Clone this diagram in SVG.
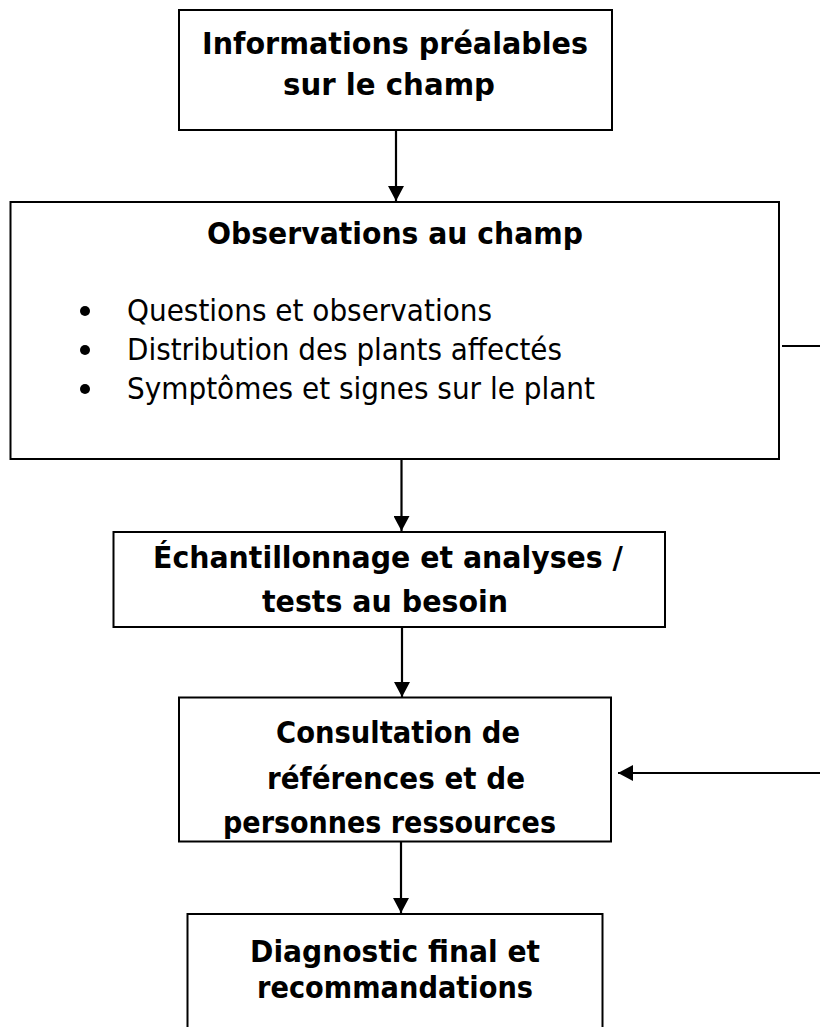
<svg xmlns="http://www.w3.org/2000/svg" width="820" height="1027" viewBox="0 0 820 1027">
<style>
.box{fill:#fff;stroke:#000;stroke-width:2}
.t{font-family:"DejaVu Sans","Verdana",sans-serif;font-weight:bold;font-size:31px;fill:#000}
.b{font-family:"DejaVu Sans","Verdana",sans-serif;font-size:29.5px;fill:#000}
.c{stroke:#000;stroke-width:2.2;fill:none}
</style>
<defs>
<marker id="ah" markerUnits="userSpaceOnUse" markerWidth="15" markerHeight="16" refX="15" refY="8" orient="auto">
<path d="M0,0 L15,8 L0,16 Z" fill="#000"/>
</marker>
</defs>
<rect width="820" height="1027" fill="#fff"/>
<g id="n1">
<rect class="box" x="179" y="10" width="433" height="120"/>
<text class="t" x="202" y="54" textLength="386" lengthAdjust="spacingAndGlyphs">Informations préalables</text>
<text class="t" x="283" y="95" textLength="212" lengthAdjust="spacingAndGlyphs">sur le champ</text>
</g>
<g id="n2">
<rect class="box" x="10.5" y="202" width="768.5" height="257"/>
<text class="t" x="207" y="244" textLength="376" lengthAdjust="spacingAndGlyphs">Observations au champ</text>
<circle cx="85" cy="311" r="5"/>
<circle cx="85" cy="350" r="5"/>
<circle cx="85" cy="389" r="5"/>
<text class="b" x="127" y="321" textLength="365" lengthAdjust="spacingAndGlyphs">Questions et observations</text>
<text class="b" x="127" y="360" textLength="435" lengthAdjust="spacingAndGlyphs">Distribution des plants affectés</text>
<text class="b" x="127" y="399" textLength="468" lengthAdjust="spacingAndGlyphs">Symptômes et signes sur le plant</text>
</g>
<g id="n3">
<rect class="box" x="113.5" y="532" width="551.5" height="95"/>
<text class="t" x="153" y="568" textLength="470" lengthAdjust="spacingAndGlyphs">Échantillonnage et analyses /</text>
<text class="t" x="262" y="612" textLength="246" lengthAdjust="spacingAndGlyphs">tests au besoin</text>
</g>
<g id="n4">
<rect class="box" x="179" y="697.5" width="432" height="144"/>
<text class="t" x="276" y="743" textLength="244" lengthAdjust="spacingAndGlyphs">Consultation de</text>
<text class="t" x="267" y="789" textLength="258" lengthAdjust="spacingAndGlyphs">références et de</text>
<text class="t" x="223" y="833" textLength="333" lengthAdjust="spacingAndGlyphs">personnes ressources</text>
</g>
<g id="n5">
<rect class="box" x="187.5" y="914" width="415" height="130"/>
<text class="t" x="250" y="962" textLength="290" lengthAdjust="spacingAndGlyphs">Diagnostic final et</text>
<text class="t" x="257" y="998" textLength="276" lengthAdjust="spacingAndGlyphs">recommandations</text>
</g>
<g id="connectors">
<line class="c" x1="396" y1="130" x2="396" y2="201" marker-end="url(#ah)"/>
<line class="c" x1="401.5" y1="459" x2="401.5" y2="531" marker-end="url(#ah)"/>
<line class="c" x1="402" y1="627" x2="402" y2="697" marker-end="url(#ah)"/>
<line class="c" x1="401" y1="842" x2="401" y2="913" marker-end="url(#ah)"/>
<line class="c" x1="782" y1="346" x2="820" y2="346"/>
<line class="c" x1="820" y1="773" x2="618" y2="773" marker-end="url(#ah)"/>
</g>
</svg>
